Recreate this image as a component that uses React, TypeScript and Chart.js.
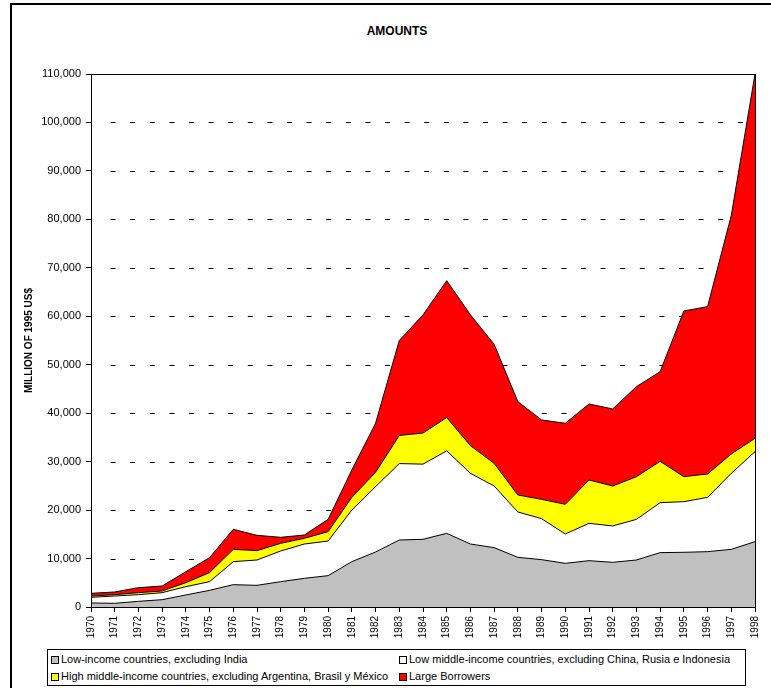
import React, { useEffect, useRef } from "react";
import { Chart, registerables } from "chart.js";

Chart.register(...registerables);

const FONT = '"Liberation Sans", Arial, sans-serif';

const years = [
  "1970", "1971", "1972", "1973", "1974", "1975", "1976", "1977", "1978", "1979",
  "1980", "1981", "1982", "1983", "1984", "1985", "1986", "1987", "1988", "1989",
  "1990", "1991", "1992", "1993", "1994", "1995", "1996", "1997", "1998",
];

const lowIncome = [
  830, 760, 1170, 1510, 2480, 3440, 4610, 4470, 5230, 5920,
  6470, 9360, 11350, 13830, 13970, 15200, 13000, 12250, 10250, 9770,
  9010, 9560, 9220, 9700, 11220, 11290, 11420, 11900, 13480,
];

const lowMiddle = [
  1170, 1510, 1380, 1450, 1720, 1790, 4750, 5230, 6330, 7080,
  7150, 10660, 13490, 15770, 15510, 17030, 14590, 12720, 9360, 8460,
  6060, 7710, 7500, 8390, 10320, 10450, 11210, 15690, 18580,
];

const highMiddle = [
  270, 280, 410, 340, 820, 1860, 2540, 1930, 1580, 1170,
  1930, 2620, 2950, 5800, 6420, 6870, 5710, 4680, 3510, 3990,
  6120, 8940, 8250, 8810, 8520, 5160, 4820, 3990, 2750,
];

const largeBorrowers = [
  550, 550, 1030, 1030, 2270, 3090, 4130, 3160, 1240, 690,
  2550, 5640, 10120, 19600, 24370, 28250, 27000, 24560, 19260, 16380,
  16720, 15690, 15900, 18580, 18510, 34190, 34540, 49220, 75190,
];

const seriesNames = [
  "Low-income countries, excluding India",
  "Low middle-income countries, excluding China, Rusia e Indonesia",
  "High middle-income countries, excluding Argentina, Brasil y México",
  "Large Borrowers",
];
const seriesColors = ["#C0C0C0", "#FFFFFF", "#FFFF00", "#FF0000"];

const Y_MAX = 110000;
const Y_STEP = 10000;

const dashGridPlugin = {
  id: "dashGrid",
  beforeDatasetsDraw(chart: any) {
    const { ctx, chartArea } = chart;
    const y = chart.scales.y;
    ctx.save();
    ctx.strokeStyle = "#000";
    ctx.lineWidth = 1;
    ctx.setLineDash([5, 14.6]);
    ctx.lineDashOffset = 5;
    y.ticks.forEach((t: any) => {
      if (t.value <= 0 || t.value >= Y_MAX) return;
      const py = Math.round(y.getPixelForValue(t.value)) + 0.5;
      ctx.beginPath();
      ctx.moveTo(chartArea.left + 5, py);
      ctx.lineTo(chartArea.right, py);
      ctx.stroke();
    });
    ctx.restore();
  },
};

const plotFramePlugin = {
  id: "plotFrame",
  afterDatasetsDraw(chart: any) {
    const { ctx, chartArea } = chart;
    const l = Math.round(chartArea.left) + 0.5;
    const t = Math.round(chartArea.top) + 0.5;
    const r = Math.round(chartArea.right) + 0.5;
    const b = Math.round(chartArea.bottom) + 0.5;
    ctx.save();
    ctx.strokeStyle = "#000";
    ctx.lineWidth = 1;
    ctx.setLineDash([]);
    ctx.strokeRect(l, t, r - l, b - t);
    ctx.restore();
  },
};

function ChartCanvas() {
  const ref = useRef<HTMLCanvasElement | null>(null);
  useEffect(() => {
    if (!ref.current) return;
    const seriesData = [lowIncome, lowMiddle, highMiddle, largeBorrowers];
    const chart = new Chart(ref.current, {
      type: "line",
      data: {
        labels: years,
        datasets: seriesData.map((d, i) => ({
          label: seriesNames[i],
          data: d,
          backgroundColor: seriesColors[i],
          borderColor: "#000",
          borderWidth: 1,
          pointRadius: 0,
          tension: 0,
          fill: i === 0 ? "origin" : "-1",
        })),
      },
      options: {
        responsive: false,
        animation: false,
        devicePixelRatio: 1,
        layout: { padding: { left: 0, right: 7, top: 74, bottom: 41 } },
        plugins: {
          legend: { display: false },
          title: { display: false },
          tooltip: { enabled: false },
        },
        scales: {
          x: {
            type: "category",
            offset: false,
            grid: {
              drawOnChartArea: false,
              drawTicks: true,
              tickLength: 5,
              tickColor: "#000",
              offset: false,
            },
            border: { display: true, color: "#000", width: 1 },
            ticks: {
              autoSkip: false,
              maxRotation: 90,
              minRotation: 90,
              padding: 4,
              color: "#000",
              font: { family: FONT, size: 10 },
            },
            afterFit: (s: any) => {
              s.height = 40;
            },
          },
          y: {
            stacked: true,
            min: 0,
            max: Y_MAX,
            grid: {
              drawOnChartArea: false,
              drawTicks: true,
              tickLength: 5,
              tickColor: "#000",
            },
            border: { display: true, color: "#000", width: 1 },
            ticks: {
              stepSize: Y_STEP,
              padding: 5,
              color: "#000",
              font: { family: FONT, size: 11 },
              callback: (v: any) => Number(v).toLocaleString("en-US"),
            },
            title: {
              display: true,
              text: "MILLION OF 1995 US$",
              color: "#000",
              font: { family: FONT, size: 10, weight: "bold" },
              padding: { top: 23.5, bottom: 0 },
            },
            afterFit: (s: any) => {
              s.width = 91;
            },
          },
        },
      },
      plugins: [dashGridPlugin, plotFramePlugin],
    } as any);
    return () => chart.destroy();
  }, []);
  return (
    <canvas
      ref={ref}
      width={771}
      height={688}
      style={{ position: "absolute", left: 0, top: 0, width: 771, height: 688 }}
    />
  );
}

function LegendItem({ x, y, color, text }: { x: number; y: number; color: string; text: string }) {
  return (
    <>
      <div
        style={{
          position: "absolute",
          left: x,
          top: y - 4,
          width: 8,
          height: 8,
          boxSizing: "border-box",
          border: "1px solid #000",
          background: color,
        }}
      />
      <div
        style={{
          position: "absolute",
          left: x + 10,
          top: y - 7,
          height: 14,
          lineHeight: "14px",
          font: `11px ${FONT}`,
          color: "#000",
          whiteSpace: "nowrap",
        }}
      >
        {text}
      </div>
    </>
  );
}

export default function App() {
  return (
    <div
      style={{
        position: "fixed",
        left: 0,
        top: 0,
        width: 771,
        height: 688,
        overflow: "hidden",
        background: "#fff",
      }}
    >
      <div
        style={{
          position: "absolute",
          left: 10,
          top: 3,
          width: 820,
          height: 820,
          border: "2px solid #000",
          boxSizing: "border-box",
        }}
      />
      <div
        style={{
          position: "absolute",
          left: 297,
          top: 24,
          width: 200,
          textAlign: "center",
          font: `bold 12px ${FONT}`,
          lineHeight: "14px",
          color: "#000",
        }}
      >
        AMOUNTS
      </div>
      <ChartCanvas />
      <div
        style={{
          position: "absolute",
          left: 47,
          top: 649,
          width: 699,
          height: 37,
          boxSizing: "border-box",
          border: "1px solid #000",
          background: "#fff",
        }}
      />
      <LegendItem x={51} y={660} color={seriesColors[0]} text={seriesNames[0]} />
      <LegendItem x={399} y={660} color={seriesColors[1]} text={seriesNames[1]} />
      <LegendItem x={51} y={677} color={seriesColors[2]} text={seriesNames[2]} />
      <LegendItem x={399} y={677} color={seriesColors[3]} text={seriesNames[3]} />
    </div>
  );
}
